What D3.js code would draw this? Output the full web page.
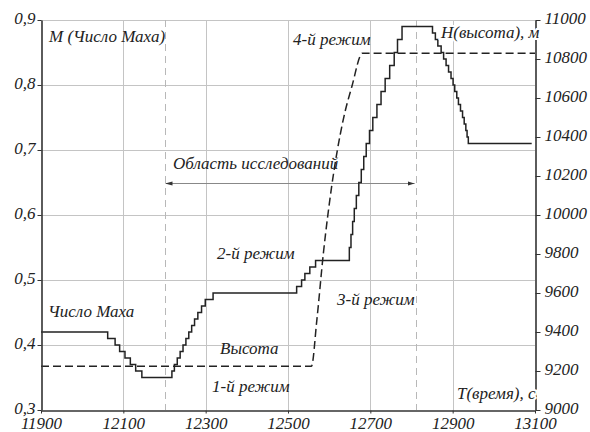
<!DOCTYPE html>
<html>
<head>
<meta charset="utf-8">
<script src="https://cdn.jsdelivr.net/npm/d3@7"></script>
<style>
  html, body { margin: 0; padding: 0; background: #fff; }
  svg { display: block; }
</style>
</head>
<body>
<svg id="chart" width="590" height="432"></svg>
<script>
// Time axis (s)
const timeTicks = [11900, 12100, 12300, 12500, 12700, 12900, 13100];
// Mach number axis
const machTicks = [0.3, 0.4, 0.5, 0.6, 0.7, 0.8, 0.9];
// Altitude axis (m)
const heightTicks = [9000, 9200, 9400, 9600, 9800, 10000, 10200, 10400, 10600, 10800, 11000];

// Mach number: stepwise profile, each point holds its value until the next time
const machTime = [
  11900, 12062, 12080, 12091, 12104, 12117, 12130, 12145,
  12218, 12224, 12231, 12238, 12245, 12252, 12259, 12266, 12273, 12281, 12290, 12299, 12308, 12318,
  12521, 12533, 12541, 12553, 12567,
  12649, 12653, 12657, 12661, 12666, 12672, 12678, 12684, 12690, 12698, 12706, 12716, 12726, 12736, 12747, 12758, 12766, 12777,
  12851, 12858, 12864, 12872, 12878, 12884, 12890, 12896, 12901, 12905, 12910, 12914, 12919, 12924, 12928, 12932, 12935, 12938,
  13092
];
const machValue = [
  0.42, 0.41, 0.40, 0.39, 0.38, 0.37, 0.36, 0.35,
  0.36, 0.37, 0.38, 0.39, 0.40, 0.41, 0.42, 0.43, 0.44, 0.45, 0.46, 0.47, 0.47, 0.48,
  0.49, 0.50, 0.51, 0.52, 0.53,
  0.55, 0.57, 0.59, 0.61, 0.63, 0.65, 0.67, 0.69, 0.71, 0.73, 0.75, 0.77, 0.79, 0.81, 0.83, 0.85, 0.87, 0.89,
  0.88, 0.87, 0.86, 0.85, 0.84, 0.83, 0.82, 0.81, 0.80, 0.79, 0.78, 0.77, 0.76, 0.75, 0.74, 0.73, 0.72, 0.71,
  0.71
];

// Altitude profile
const heightTime  = [11900, 12557, 12570, 12586, 12606, 12634, 12655, 12681, 13100];
const heightValue = [9225,  9225,  9460,  9805,  10145, 10487, 10658, 10830, 10830];

// Boundaries of the study region
const studyRange = [12200, 12810];

const FONT = "Liberation Serif";
const FONT_SIZE = 17;

const svg = d3.select("#chart");
const mLeft = 41, mRight = 535, mTop = 20, mBottom = 410;

const x  = d3.scaleLinear().domain([11900, 13100]).range([mLeft, mRight]);
const yM = d3.scaleLinear().domain([0.3, 0.9]).range([mBottom, mTop]);
const yH = d3.scaleLinear().domain([9000, 11000]).range([mBottom, mTop]);

const comma = v => d3.format(".1f")(v).replace(".", ",");

// grid
const grid = svg.append("g").attr("stroke", "#c4c4c4").attr("stroke-width", 1);
grid.selectAll("line.h").data(machTicks.slice(1)).join("line")
  .attr("x1", mLeft).attr("x2", mRight)
  .attr("y1", d => Math.round(yM(d)) + 0.5).attr("y2", d => Math.round(yM(d)) + 0.5);
grid.selectAll("line.v").data(timeTicks.slice(1, -1)).join("line")
  .attr("y1", mTop).attr("y2", mBottom)
  .attr("x1", d => Math.round(x(d)) + 0.5).attr("x2", d => Math.round(x(d)) + 0.5);

// study region boundaries
svg.append("g").selectAll("line").data(studyRange).join("line")
  .attr("x1", d => Math.round(x(d)) + 0.5).attr("x2", d => Math.round(x(d)) + 0.5)
  .attr("y1", mTop).attr("y2", mBottom)
  .attr("stroke", "#b8b8b8").attr("stroke-width", 1).attr("stroke-dasharray", "7,5");

// study region arrow
const defs = svg.append("defs");
defs.append("marker").attr("id", "arr").attr("viewBox", "0 0 10 10")
  .attr("refX", 10).attr("refY", 5).attr("markerWidth", 7).attr("markerHeight", 7)
  .attr("orient", "auto-start-reverse").attr("markerUnits", "userSpaceOnUse")
  .append("path").attr("d", "M0,2 L10,5 L0,8 Z").attr("fill", "#333");
const arrowY = 183.5;
svg.append("line")
  .attr("x1", x(studyRange[0]) + 1).attr("x2", x(studyRange[1]) - 1)
  .attr("y1", arrowY).attr("y2", arrowY)
  .attr("stroke", "#888").attr("stroke-width", 1)
  .attr("marker-start", "url(#arr)").attr("marker-end", "url(#arr)");

// altitude line (dashed)
const hData = heightTime.map((t, i) => [t, heightValue[i]]);
svg.append("path").datum(hData)
  .attr("d", d3.line().x(d => x(d[0])).y(d => yH(d[1])).curve(d3.curveMonotoneX))
  .attr("fill", "none").attr("stroke", "#222").attr("stroke-width", 1.5)
  .attr("stroke-dasharray", "8,4");

// Mach number line (steps)
const mData = machTime.map((t, i) => [t, machValue[i]]);
svg.append("path").datum(mData)
  .attr("d", d3.line().x(d => x(d[0])).y(d => yM(d[1])).curve(d3.curveStepAfter))
  .attr("fill", "none").attr("stroke", "#222").attr("stroke-width", 1.5);

// axes
const axisColor = "#333";
const gL = svg.append("g").attr("transform", `translate(${mLeft + 0.5},0)`)
  .call(d3.axisLeft(yM).tickValues(machTicks).tickSize(4).tickSizeOuter(0).tickFormat(comma).tickPadding(2));
const gB = svg.append("g").attr("transform", `translate(0,${mBottom + 0.5})`)
  .call(d3.axisBottom(x).tickValues(timeTicks).tickSize(3).tickSizeOuter(0).tickFormat(d3.format("d")).tickPadding(7));
const gR = svg.append("g").attr("transform", `translate(${mRight + 0.5},0)`)
  .call(d3.axisRight(yH).tickValues(heightTicks).tickSize(5).tickSizeOuter(0).tickFormat(d3.format("d")).tickPadding(4));
[gL, gB, gR].forEach(g => {
  g.attr("font-family", FONT).attr("font-size", FONT_SIZE);
  g.selectAll("path.domain").attr("stroke", axisColor).attr("stroke-width", 1.6);
  g.selectAll(".tick line").attr("stroke", axisColor);
  g.selectAll("text")
    .attr("font-family", FONT).attr("font-style", "italic").attr("font-size", FONT_SIZE)
    .attr("fill", "#222");
});
gB.selectAll("text").attr("dy", "0.5em");
gL.selectAll("text").attr("dy", "0.22em");
gR.selectAll("text").attr("dy", "0.22em");

// annotations
const labels = [
  { t: "M (Число Маха)", x: 49, y: 42 },
  { t: "4-й режим", x: 293, y: 45 },
  { t: "H(высота), м", x: 441, y: 38, halo: true },
  { t: "Область исследований", x: 173, y: 169 },
  { t: "2-й режим", x: 217, y: 259 },
  { t: "3-й режим", x: 337, y: 305 },
  { t: "Число Маха", x: 48, y: 317 },
  { t: "Высота", x: 220, y: 354 },
  { t: "1-й режим", x: 212, y: 392 },
  { t: "T(время), c", x: 457, y: 399, halo: true }
];
svg.append("g").selectAll("text").data(labels).join("text")
  .attr("x", d => d.x).attr("y", d => d.y)
  .attr("font-family", FONT).attr("font-style", "italic").attr("font-size", FONT_SIZE)
  .attr("fill", "#222")
  .attr("stroke", d => d.halo ? "#fff" : null)
  .attr("stroke-width", d => d.halo ? 4 : null)
  .attr("paint-order", "stroke")
  .text(d => d.t);
</script>
</body>
</html>
